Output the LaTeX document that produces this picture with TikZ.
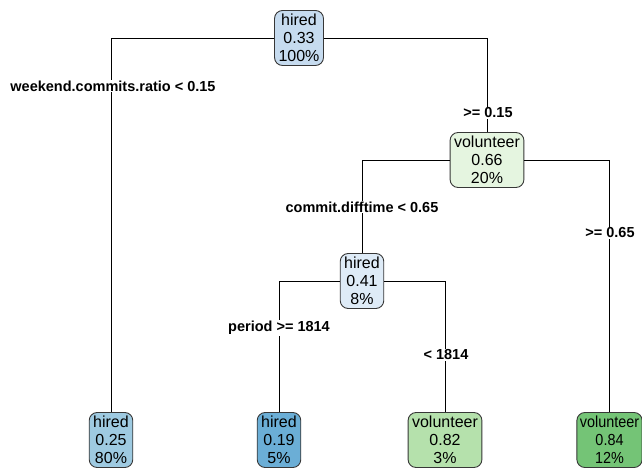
\documentclass[tikz,border=0pt]{standalone}
\usepackage{fontspec}
\setmainfont{Liberation Sans}
\newfontfamily\narrowsans[FakeStretch=0.9]{Liberation Sans}

% fill colours of the tree nodes (blue = hired, green = volunteer)
\definecolor{blueA}{RGB}{222,235,247}
\definecolor{blueB}{RGB}{198,219,239}
\definecolor{blueC}{RGB}{158,202,225}
\definecolor{blueD}{RGB}{107,174,214}
\definecolor{greenA}{RGB}{229,245,224}
\definecolor{greenB}{RGB}{181,225,172}
\definecolor{greenC}{RGB}{116,196,118}
\definecolor{framegray}{RGB}{55,55,55}

\begin{document}
\begin{tikzpicture}[x=1pt,y=-1pt,
  treenode/.style={draw=framegray, line width=0.9pt, rounded corners=8pt,
    align=center, inner xsep=4pt, inner ysep=2pt, minimum height=55pt,
    font=\fontsize{16}{18}\selectfont},
  splitlabel/.style={fill=white, inner xsep=1.5pt, inner ysep=1pt,
    font=\bfseries\fontsize{14.5}{17}\selectfont},
  conn/.style={line width=0.8pt, black}]
\useasboundingbox (0,0) rectangle (642,468);

% nodes
\node[treenode, fill=blueB]  (root) at (299,38)  {hired\\0.33\\100\%};
\node[treenode, fill=greenA] (vol)  at (487,160) {volunteer\\0.66\\20\%};
\node[treenode, fill=blueA]  (mid)  at (362,281) {hired\\0.41\\8\%};
\node[treenode, fill=blueC]  (leafa) at (111,440) {hired\\0.25\\80\%};
\node[treenode, fill=blueD]  (leafb) at (279,440) {hired\\0.19\\5\%};
\node[treenode, fill=greenB] (leafc) at (445,440) {volunteer\\0.82\\3\%};
\node[treenode, fill=greenC, inner xsep=3pt,
      font=\narrowsans\fontsize{16}{18}\selectfont] (leafd) at (609.5,440) {volunteer\\0.84\\12\%};

% connectors
\draw[conn] (root.west) -| (leafa.north);
\draw[conn] (root.east) -| (vol.north);
\draw[conn] (vol.west)  -| (mid.north);
\draw[conn] (vol.east)  -| (leafd.north);
\draw[conn] (mid.west)  -| (leafb.north);
\draw[conn] (mid.east)  -| (leafc.north);

% split labels
\node[splitlabel] (sa) at (113,86)  {weekend.commits.ratio < 0.15};
\node[splitlabel] (sb) at (488,113) {>= 0.15};
\node[splitlabel] (sc) at (362,207) {commit.difftime < 0.65};
\node[splitlabel] (sd) at (610,233) {>= 0.65};
\node[splitlabel] (se) at (279,328) {period >= 1814};
\node[splitlabel] (sf) at (446,355) {< 1814};
\end{tikzpicture}
\end{document}
